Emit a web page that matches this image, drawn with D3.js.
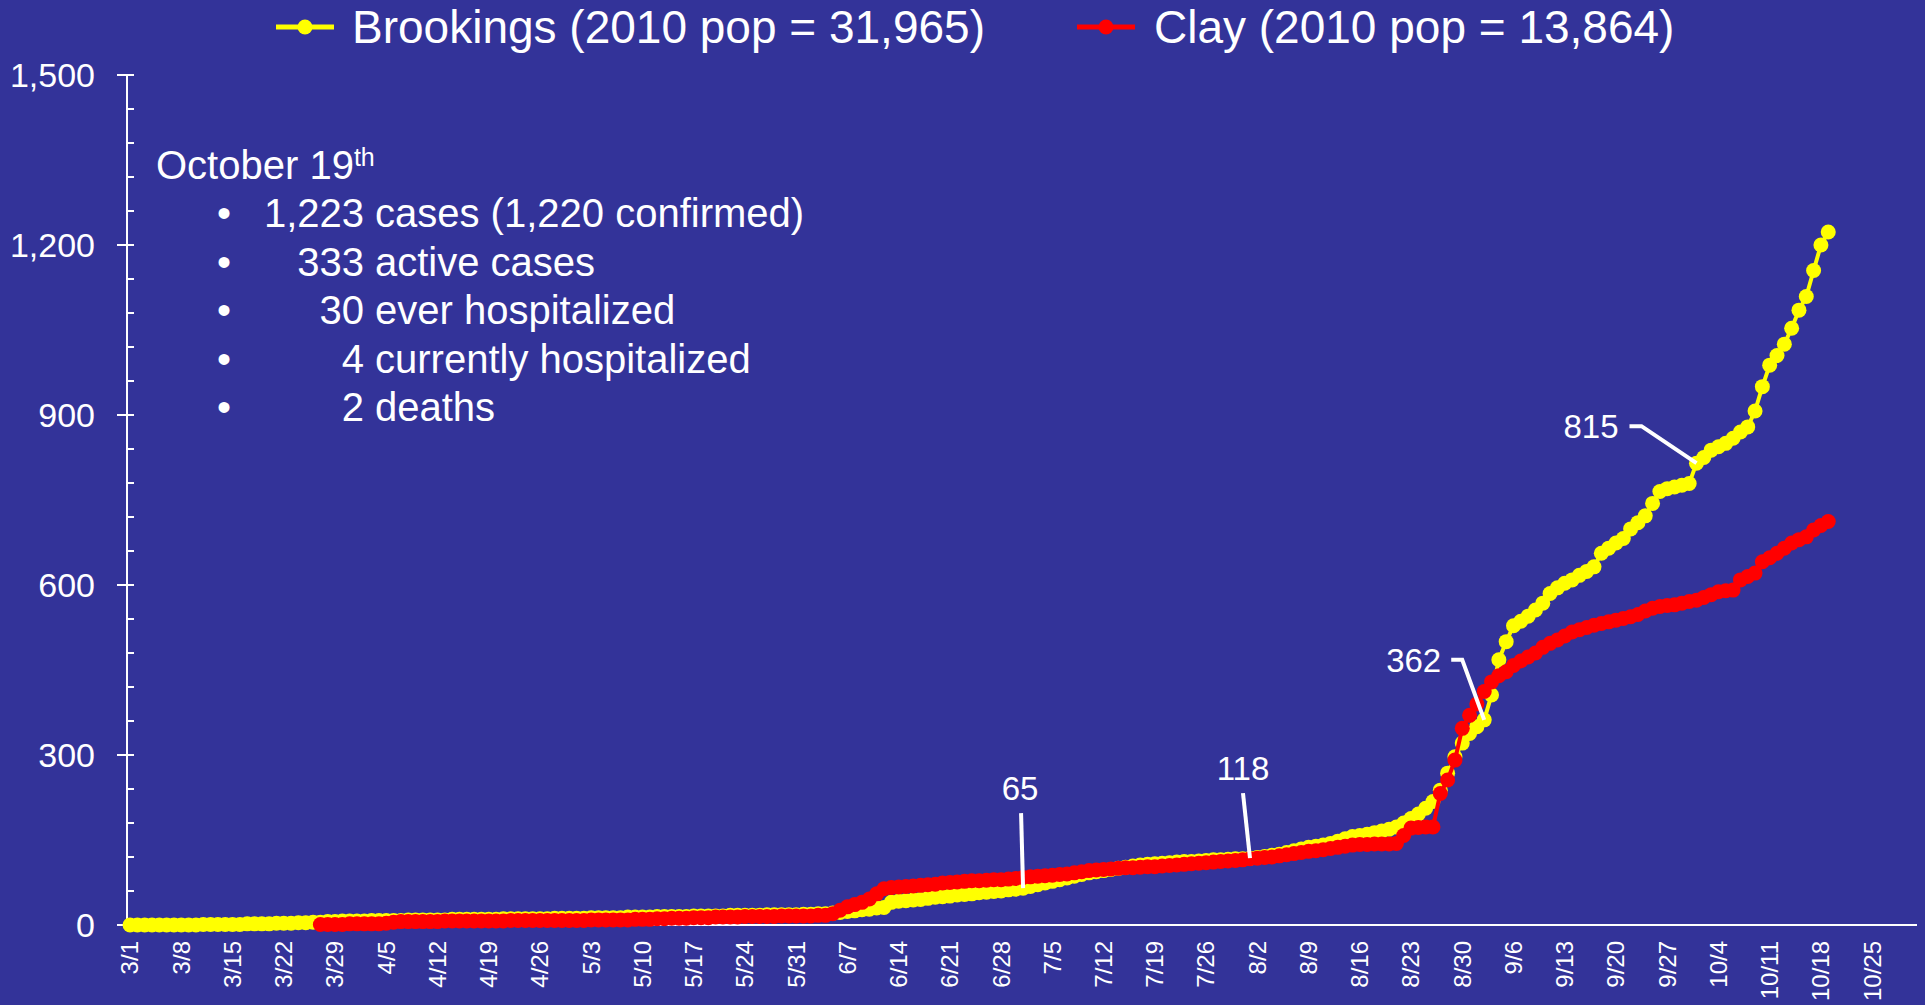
<!DOCTYPE html>
<html>
<head>
<meta charset="utf-8">
<script src="https://cdn.jsdelivr.net/npm/d3@7"></script>
<style>
  html, body { margin: 0; padding: 0; background: #333399; }
  svg { display: block; }
  text { font-family: "Liberation Sans", Arial, sans-serif; fill: #ffffff; }
</style>
</head>
<body>
<div id="chart"></div>
<script>
// cumulative cases, one value per day
const brookingsStart = "2020-03-01";
const brookings = [
  // March
  0, 0, 0, 0, 0, 0, 0, 0, 0, 0, 1, 1, 1, 1, 1, 1, 2, 2, 2, 2, 3, 3, 3, 4, 4, 5, 5, 6, 6, 7, 7,
  // April
  7, 7, 8, 8, 8, 8, 8, 9, 9, 9, 9, 9, 9, 10, 10, 10, 10, 10, 10, 10, 11, 11, 11, 11, 11, 11, 11, 12, 12, 12,
  // May
  12, 12, 13, 13, 13, 13, 13, 14, 14, 14, 14, 15, 15, 15, 15, 15, 16, 16, 16, 16, 16, 17, 17, 17, 17, 17, 18, 18, 18, 18, 18,
  // June
  19, 19, 20, 20, 21, 22, 24, 25, 27, 28, 30, 31, 40, 42, 43, 44, 45, 47, 49, 50, 51, 53, 54, 55, 57, 58, 59, 60, 62, 63,
  // July
  65, 68, 71, 74, 77, 80, 83, 86, 89, 92, 94, 96, 98, 100, 102, 104, 106, 107, 108, 109, 110, 111, 112, 112, 113, 114, 115, 115, 116, 117, 117,
  // August
  118, 119, 121, 123, 125, 128, 131, 134, 137, 139, 141, 144, 148, 152, 156, 158, 160, 163, 166, 169, 173, 180, 188, 196, 206, 218, 238, 268, 297, 321, 338,
  // September
  350, 362, 406, 468, 500, 528, 536, 545, 556, 568, 585, 595, 603, 609, 617, 624, 632, 656, 665, 674, 682, 699, 710, 722, 744, 765, 770, 773, 776, 779,
  // October
  815, 825, 838, 844, 850, 859, 870, 879, 907, 950, 988, 1005, 1025, 1053, 1085, 1109, 1155, 1200, 1223
];

const clayStart = "2020-03-27";
const clay = [
  // March
  1, 1, 1, 1, 2,
  // April
  2, 2, 2, 2, 3, 5, 6, 6, 6, 6, 6, 6, 7, 7, 7, 7, 7, 7, 7, 7, 7, 8, 8, 8, 8, 8, 8, 8, 8, 8,
  // May
  8, 8, 9, 9, 9, 9, 9, 9, 10, 10, 10, 11, 11, 12, 12, 12, 13, 13, 13, 14, 14, 14, 14, 15, 15, 15, 15, 15, 16, 16, 16,
  // June
  16, 16, 17, 17, 20, 26, 32, 36, 40, 46, 55, 64, 66, 67, 68, 69, 70, 71, 72, 74, 75, 76, 77, 78, 78, 79, 80, 80, 81, 82,
  // July
  84, 85, 86, 87, 88, 89, 90, 92, 94, 96, 97, 98, 99, 100, 101, 101, 102, 103, 103, 104, 105, 106, 107, 108, 109, 110, 111, 112, 113, 114, 115,
  // August
  117, 118, 119, 120, 122, 124, 126, 128, 130, 131, 133, 135, 137, 139, 141, 142, 142, 143, 143, 143, 144, 158, 171, 172, 173, 173, 232, 256, 291, 347, 370,
  // September
  390, 412, 429, 440, 447, 458, 466, 473, 480, 490, 497, 503, 510, 517, 521, 525, 529, 532, 535, 538, 541, 544, 548, 554, 559, 562, 564, 565, 568, 571,
  // October
  573, 578, 583, 588, 590, 591, 609, 615, 621, 641, 648, 656, 665, 674, 680, 685, 697, 705, 712
];

const seriesNames = ["Brookings (2010 pop = 31,965)", "Clay (2010 pop = 13,864)"];
const seriesColors = ["#ffff00", "#ff0000"];

const yTicks = [0, 300, 600, 900, 1200, 1500];
const xTickLabels = ["3/1", "3/8", "3/15", "3/22", "3/29", "4/5", "4/12", "4/19", "4/26", "5/3", "5/10",
  "5/17", "5/24", "5/31", "6/7", "6/14", "6/21", "6/28", "7/5", "7/12", "7/19", "7/26", "8/2", "8/9",
  "8/16", "8/23", "8/30", "9/6", "9/13", "9/20", "9/27", "10/4", "10/11", "10/18", "10/25"];

const noteTitle = "October 19";
const noteNumbers = ["1,223", "333", "30", "4", "2"];
const noteTexts = ["cases (1,220 confirmed)", "active cases", "ever hospitalized", "currently hospitalized", "deaths"];

// Brookings values called out on the chart
const calloutDates = ["2020-07-01", "2020-08-01", "2020-09-02", "2020-10-01"];
const calloutValues = [65, 118, 362, 815];

// ---------------------------------------------------------------
const W = 1925, H = 1005;
const parse = d3.utcParse("%Y-%m-%d");

function toPoints(start, values) {
  const d0 = parse(start);
  return values.map((v, i) => ({ date: d3.utcDay.offset(d0, i), value: v }));
}
const series = [
  { name: seriesNames[0], color: seriesColors[0], values: toPoints(brookingsStart, brookings) },
  { name: seriesNames[1], color: seriesColors[1], values: toPoints(clayStart, clay) }
];

const svg = d3.select("#chart").append("svg")
  .attr("width", W)
  .attr("height", H);

svg.append("rect").attr("width", W).attr("height", H).attr("fill", "#333399");

// x: date axis, y: cases
const x = d3.scaleUtc()
  .domain([d3.utcHour.offset(parse("2020-03-01"), -10), d3.utcHour.offset(parse("2020-10-31"), 3)])
  .range([127, 1917]);
const y = d3.scaleLinear()
  .domain([0, 1500])
  .range([925, 75]);

const axisX = x.range()[0];

// Y axis
const yAxis = svg.append("g");
yAxis.append("line")
  .attr("x1", axisX).attr("x2", axisX)
  .attr("y1", y(1500)).attr("y2", y(0))
  .attr("stroke", "#fff").attr("stroke-width", 2);
// minor ticks every 60
yAxis.selectAll(".minor")
  .data(d3.range(60, 1500, 60).filter(v => v % 300 !== 0))
  .join("line")
  .attr("x1", axisX).attr("x2", axisX + 7)
  .attr("y1", d => y(d)).attr("y2", d => y(d))
  .attr("stroke", "#fff").attr("stroke-width", 2);
yAxis.selectAll(".major")
  .data(yTicks)
  .join("line")
  .attr("x1", axisX - 10).attr("x2", axisX + 7)
  .attr("y1", d => y(d)).attr("y2", d => y(d))
  .attr("stroke", "#fff").attr("stroke-width", 2);
yAxis.selectAll("text")
  .data(yTicks)
  .join("text")
  .attr("x", 95)
  .attr("y", d => y(d))
  .attr("dy", "0.36em")
  .attr("text-anchor", "end")
  .style("font-size", "34px")
  .text(d => d3.format(",")(d));

// X axis
const xAxis = svg.append("g");
xAxis.append("line")
  .attr("x1", axisX).attr("x2", x.range()[1])
  .attr("y1", y(0)).attr("y2", y(0))
  .attr("stroke", "#fff").attr("stroke-width", 2);
const tickParse = d3.utcParse("%m/%d/%Y");
xAxis.selectAll("text")
  .data(xTickLabels)
  .join("text")
  .attr("transform", d => `translate(${x(tickParse(d + "/2020"))},941) rotate(-90)`)
  .attr("dy", "0.35em")
  .attr("text-anchor", "end")
  .style("font-size", "24px")
  .text(d => d);

// Lines and markers
const line = d3.line()
  .x(d => x(d.date))
  .y(d => y(d.value));

const sg = svg.selectAll(".series")
  .data(series)
  .join("g")
  .attr("class", "series");
sg.append("path")
  .attr("d", d => line(d.values))
  .attr("fill", "none")
  .attr("stroke", d => d.color)
  .attr("stroke-width", 4)
  .attr("stroke-linejoin", "round");
sg.each(function (s) {
  d3.select(this).selectAll("circle")
    .data(s.values)
    .join("circle")
    .attr("cx", d => x(d.date))
    .attr("cy", d => y(d.value))
    .attr("r", 7.5)
    .attr("fill", s.color);
});

// Legend
const legendPos = [{ x: 276, tx: 352 }, { x: 1077, tx: 1154 }];
const lg = svg.selectAll(".legend")
  .data(series)
  .join("g")
  .attr("class", "legend");
lg.append("line")
  .attr("x1", (d, i) => legendPos[i].x).attr("x2", (d, i) => legendPos[i].x + 58)
  .attr("y1", 27).attr("y2", 27)
  .attr("stroke", d => d.color).attr("stroke-width", 5);
lg.append("circle")
  .attr("cx", (d, i) => legendPos[i].x + 29).attr("cy", 27).attr("r", 7.5)
  .attr("fill", d => d.color);
lg.append("text")
  .attr("x", (d, i) => legendPos[i].tx)
  .attr("y", 43)
  .style("font-size", "46px")
  .text(d => d.name);

// Notes box
const note = svg.append("g");
const title = note.append("text")
  .attr("x", 156).attr("y", 179)
  .style("font-size", "40px")
  .text(noteTitle);
title.append("tspan")
  .attr("dy", -13)
  .style("font-size", "25px")
  .text("th");
const rows = note.selectAll(".row")
  .data(noteNumbers)
  .join("g")
  .attr("class", "row")
  .attr("transform", (d, i) => `translate(0,${227 + i * 48.6})`);
rows.append("text")
  .attr("x", 224).attr("text-anchor", "middle")
  .style("font-size", "40px")
  .text("\u2022");
rows.append("text")
  .attr("x", 364).attr("text-anchor", "end")
  .style("font-size", "40px")
  .text(d => d);
rows.append("text")
  .attr("x", 375)
  .style("font-size", "40px")
  .text((d, i) => noteTexts[i]);

// Callouts with leader lines
const calloutLayout = [
  { pts: [[-2, -75]], text: [-3, -88], anchor: "middle" },
  { pts: [[-7, -65]], text: [-7, -78], anchor: "middle" },
  { pts: [[-22, -60], [-33, -60]], text: [-43, -48], anchor: "end" },
  { pts: [[-55, -37], [-67, -37]], text: [-78, -25], anchor: "end" }
];
const co = svg.selectAll(".callout")
  .data(calloutValues)
  .join("g")
  .attr("class", "callout")
  .attr("transform", (d, i) => `translate(${x(parse(calloutDates[i]))},${y(d)})`);
co.append("path")
  .attr("d", (d, i) => d3.line()([[0, 0], ...calloutLayout[i].pts]))
  .attr("fill", "none")
  .attr("stroke", "#fff")
  .attr("stroke-width", 4);
co.append("text")
  .attr("x", (d, i) => calloutLayout[i].text[0])
  .attr("y", (d, i) => calloutLayout[i].text[1])
  .attr("text-anchor", (d, i) => calloutLayout[i].anchor)
  .style("font-size", "33px")
  .text(d => d);
</script>
</body>
</html>
